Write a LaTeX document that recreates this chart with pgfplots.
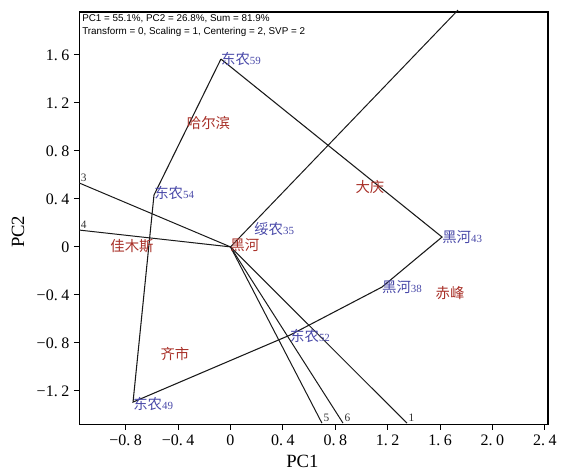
\documentclass[border=0pt]{standalone}
\usepackage{pgfplots}
\pgfplotsset{compat=1.18}
\usepackage{fontspec}
\setmainfont{Liberation Serif}
\newfontfamily\cjk{Noto Sans CJK SC}
\newfontfamily\arial{Liberation Sans}
\definecolor{envred}{RGB}{168,48,40}
\definecolor{genblue}{RGB}{72,72,168}
\newcommand{\gen}[2]{{\cjk\fontsize{10.8}{12}\selectfont #1}{\fontsize{8.2}{9}\selectfont #2}}
\newcommand{\env}[1]{{\cjk\fontsize{10.8}{12}\selectfont #1}}
\newcommand{\dd}{.\hspace{0.22em}}

\pgfplotstableread{
x y
-0.073 1.565
1.615 0.082
1.156 -0.335
0.454 -0.735
-0.744 -1.293
-0.584 0.432
-0.073 1.565
}\hull

\begin{document}
\begin{tikzpicture}
\begin{axis}[name=ax, scale only axis, width=351.5pt, height=309.4pt,
 xmin=-1.154, xmax=2.424, ymin=-1.48, ymax=1.957,
 axis line style={line width=1.2pt},
 xtick={-0.8,-0.4,0,0.4,0.8,1.2,1.6,2.0,2.4},
 xticklabels={−0\dd8,−0\dd4,0,0\dd4,0\dd8,1\dd2,1\dd6,2\dd0,2\dd4},
 ytick={-1.2,-0.8,-0.4,0,0.4,0.8,1.2,1.6},
 yticklabels={−1\dd2,−0\dd8,−0\dd4,0,0\dd4,0\dd8,1\dd2,1\dd6},
 tick align=outside, xtick pos=bottom, ytick pos=left,
 major tick length=4pt, tick style={line width=0.8pt, black},
 ticklabel style={font=\fontsize{12}{12}\selectfont},
 clip=false,
 xlabel={PC1}, ylabel={PC2},
 label style={font=\fontsize{14}{14}\selectfont},
 xlabel style={at={(axis description cs:0.476,-0.0886)}, anchor=center},
 ylabel style={at={(axis description cs:-0.131,0.467)}, anchor=center},
]
\addplot[black!90, line width=0.8pt] table[x=x,y=y] {\hull};
% environment vectors / perpendiculars
\addplot[black!90, line width=0.75pt] coordinates {(0,0) (1.737,1.973)};
\addplot[black!90, line width=0.75pt] coordinates {(0,0) (-1.154,0.532)};
\addplot[black!90, line width=0.75pt] coordinates {(0,0) (-1.154,0.14)};
\addplot[black!90, line width=0.75pt] coordinates {(0,0) (0.698,-1.468)};
\addplot[black!90, line width=0.75pt] coordinates {(0,0) (0.859,-1.468)};
\addplot[black!90, line width=0.75pt] coordinates {(0,0) (1.347,-1.468)};

\begin{scope}[font=\fontsize{8.5}{9}\selectfont, text=black!80, inner sep=1pt]
\node[anchor=south west] at (axis cs:-1.154,0.532) {3};
\node[anchor=south west] at (axis cs:-1.154,0.14) {4};
\node[anchor=south west] at (axis cs:0.698,-1.468) {5};
\node[anchor=south west] at (axis cs:0.859,-1.468) {6};
\node[anchor=south west] at (axis cs:1.347,-1.468) {1};
\end{scope}

\begin{scope}[text=envred, inner sep=0pt]
\node at (axis cs:-0.168,1.03) {\env{哈尔滨}};
\node at (axis cs:1.065,0.498) {\env{大庆}};
\node at (axis cs:-0.752,0.007) {\env{佳木斯}};
\node at (axis cs:-0.424,-0.893) {\env{齐市}};
\node at (axis cs:1.676,-0.384) {\env{赤峰}};
\node at (axis cs:0.11,0.015) {\env{黑河}};
\end{scope}

\begin{scope}[text=genblue, inner sep=0pt]
\node[anchor=west] at (axis cs:-0.073,1.565) {\gen{东农}{59}};
\node[anchor=west] at (axis cs:-0.584,0.45) {\gen{东农}{54}};
\node[anchor=west] at (axis cs:0.18,0.15) {\gen{绥农}{35}};
\node[anchor=west] at (axis cs:1.615,0.082) {\gen{黑河}{43}};
\node[anchor=west] at (axis cs:1.156,-0.335) {\gen{黑河}{38}};
\node[anchor=west] at (axis cs:0.454,-0.745) {\gen{东农}{52}};
\node[anchor=west] at (axis cs:-0.744,-1.31) {\gen{东农}{49}};
\end{scope}

\node[anchor=north west, align=left, inner sep=2pt, font=\arial\fontsize{7.4}{9.6}\selectfont] at (rel axis cs:0,1) {PC1 = 55.1\%, PC2 = 26.8\%, Sum = 81.9\%\\Transform = 0, Scaling = 1, Centering = 2, SVP = 2};
\end{axis}
\pgfresetboundingbox
\path[use as bounding box] ([shift={(-59.5pt,-37.1pt)}]ax.south west) rectangle ([shift={(9.75pt,9pt)}]ax.north east);
\end{tikzpicture}
\end{document}
